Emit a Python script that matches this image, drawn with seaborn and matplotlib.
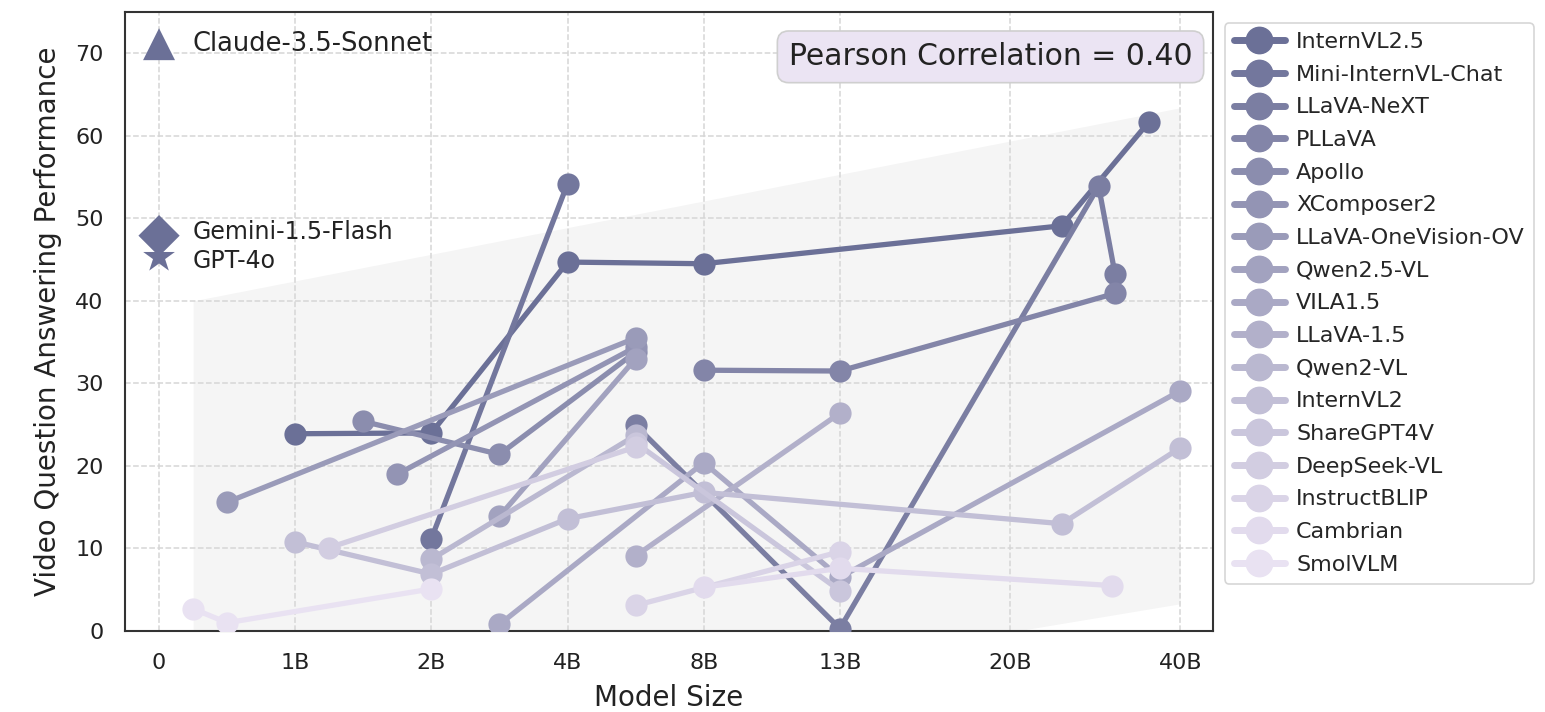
import numpy as np
import pandas as pd
import matplotlib
matplotlib.use("Agg")
import matplotlib.pyplot as plt
import seaborn as sns
from matplotlib.lines import Line2D

# ---------------- data ----------------
models = ["InternVL2.5", "Mini-InternVL-Chat", "LLaVA-NeXT", "PLLaVA", "Apollo",
          "XComposer2", "LLaVA-OneVision-OV", "Qwen2.5-VL", "VILA1.5", "LLaVA-1.5",
          "Qwen2-VL", "InternVL2", "ShareGPT4V", "DeepSeek-VL", "InstructBLIP",
          "Cambrian", "SmolVLM"]

# x = position on the model-size axis (tick index units), y = score
internvl25_x = [1, 2, 3, 4, 6.63, 7.27]
internvl25_y = [23.9, 24.0, 44.7, 44.5, 49.1, 61.7]
mini_internvl_x = [2, 3]
mini_internvl_y = [11.2, 54.2]
llava_next_x = [3.5, 5, 6.9, 7.02]
llava_next_y = [24.9, 0.3, 53.9, 43.3]
pllava_x = [4, 5, 7.02]
pllava_y = [31.6, 31.5, 40.9]
apollo_x = [1.5, 2.5, 3.5]
apollo_y = [25.4, 21.4, 33.8]
xcomposer2_x = [1.75, 3.5]
xcomposer2_y = [19.0, 34.4]
llava_ov_x = [0.5, 3.5]
llava_ov_y = [15.6, 35.5]
qwen25vl_x = [2.5, 3.5]
qwen25vl_y = [13.9, 33.0]
vila15_x = [2.5, 4, 5, 7.5]
vila15_y = [0.8, 20.4, 6.5, 29.1]
llava15_x = [3.5, 5]
llava15_y = [9.1, 26.4]
qwen2vl_x = [2, 3.5]
qwen2vl_y = [8.7, 23.7]
internvl2_x = [1, 2, 3, 4, 6.63, 7.5]
internvl2_y = [10.8, 6.9, 13.6, 16.8, 13.0, 22.2]
sharegpt4v_x = [3.5, 5]
sharegpt4v_y = [22.8, 4.9]
deepseek_x = [1.25, 3.5]
deepseek_y = [10.1, 22.3]
instructblip_x = [3.5, 5]
instructblip_y = [3.1, 9.6]
cambrian_x = [4, 5, 7.0]
cambrian_y = [5.3, 7.6, 5.5]
smolvlm_x = [0.25, 0.5, 2]
smolvlm_y = [2.7, 1.0, 5.1]

series_x = [internvl25_x, mini_internvl_x, llava_next_x, pllava_x, apollo_x,
            xcomposer2_x, llava_ov_x, qwen25vl_x, vila15_x, llava15_x,
            qwen2vl_x, internvl2_x, sharegpt4v_x, deepseek_x, instructblip_x,
            cambrian_x, smolvlm_x]
series_y = [internvl25_y, mini_internvl_y, llava_next_y, pllava_y, apollo_y,
            xcomposer2_y, llava_ov_y, qwen25vl_y, vila15_y, llava15_y,
            qwen2vl_y, internvl2_y, sharegpt4v_y, deepseek_y, instructblip_y,
            cambrian_y, smolvlm_y]

api_names = ["Claude-3.5-Sonnet", "GPT-4o", "Gemini-1.5-Flash"]
api_scores = [71.1, 45.3, 47.9]
api_markers = ["^", "*", "D"]

tick_pos = [0, 1, 2, 3, 4, 5, 6.25, 7.5]
tick_labels = ["0", "1B", "2B", "4B", "8B", "13B", "20B", "40B"]

band_x = [0.25, 7.5]
band_lo = [-16.6, 3.3]
band_hi = [40.0, 63.4]

pearson_r = 0.40

# ---------------- plot ----------------
sns.set_style("white")
plt.rcParams["font.family"] = ["DejaVu Sans"]

rows = []
for m, xs, ys in zip(models, series_x, series_y):
    for xv, yv in zip(xs, ys):
        rows.append({"model": m, "pos": xv, "score": yv})
df = pd.DataFrame(rows)

palette = sns.blend_palette(["#6b7097", "#e9e2f2"], n_colors=len(models))
dark = palette[0]

W, H = 1545, 712
fig = plt.figure(figsize=(W / 100, H / 100), dpi=100)
ax = fig.add_axes([125 / W, 1 - 631 / H, (1213 - 125) / W, (631 - 12) / H])

ax.fill_between(band_x, band_lo, band_hi, color="gray", alpha=0.08, lw=0, zorder=0.5)

sns.lineplot(data=df, x="pos", y="score", hue="model", hue_order=models,
             palette=palette, marker="o", markersize=16, linewidth=3.8,
             markeredgewidth=0, estimator=None, sort=True, legend=False,
             ax=ax, zorder=3)

sizes = {"^": 23, "*": 24, "D": 21}
label_offsets = {"Claude-3.5-Sonnet": 0, "GPT-4o": -2.5, "Gemini-1.5-Flash": 2.5}
label_sizes = {"Claude-3.5-Sonnet": 18.5, "GPT-4o": 17, "Gemini-1.5-Flash": 17}
for name, sc, mk in zip(api_names, api_scores, api_markers):
    sns.scatterplot(x=[0], y=[sc], marker=mk, s=sizes[mk] ** 2, color=dark,
                    edgecolor="none", ax=ax, zorder=5, legend=False)
    ax.annotate(name, (0, sc), xytext=(24, label_offsets[name]), textcoords="offset points",
                va="center", ha="left", fontsize=label_sizes[name], color="#222222")

ax.text(0.981, 0.951, f"Pearson Correlation = {pearson_r:.2f}", transform=ax.transAxes,
        ha="right", va="top", fontsize=21.5, color="#222222", zorder=6,
        bbox=dict(boxstyle="round,pad=0.38", fc="#ebe4f3", ec="#cfcfcf", lw=1.2))

ax.set_xlim(-0.25, 7.74)
ax.set_ylim(0, 75)
ax.set_xticks(tick_pos)
ax.set_xticklabels(tick_labels)
ax.set_yticks(np.arange(0, 71, 10))
ax.grid(True, ls="--", color="#d6d6d6", lw=1.1)
ax.set_axisbelow(True)
ax.tick_params(labelsize=16, length=6.5, width=1.3, pad=9, direction="out", colors="#222222")
for sp in ax.spines.values():
    sp.set_linewidth(1.5)
    sp.set_color("#333333")
ax.set_xlabel("Model Size", fontsize=20, color="#222222", labelpad=8)
ax.set_ylabel("Video Question Answering Performance", fontsize=20, color="#222222", labelpad=9)

handles = [Line2D([0], [0], color=c, marker="o", markersize=19, linewidth=5) for c in palette]
leg = ax.legend(handles, models, loc="upper left", bbox_to_anchor=(1.011, 0.982),
                borderaxespad=0, fontsize=16, labelspacing=0.57, handlelength=2.3,
                handletextpad=0.5, frameon=True, fancybox=True, edgecolor="#cccccc")
leg.get_frame().set_linewidth(1.2)

fig.savefig("out.png", dpi=100)
